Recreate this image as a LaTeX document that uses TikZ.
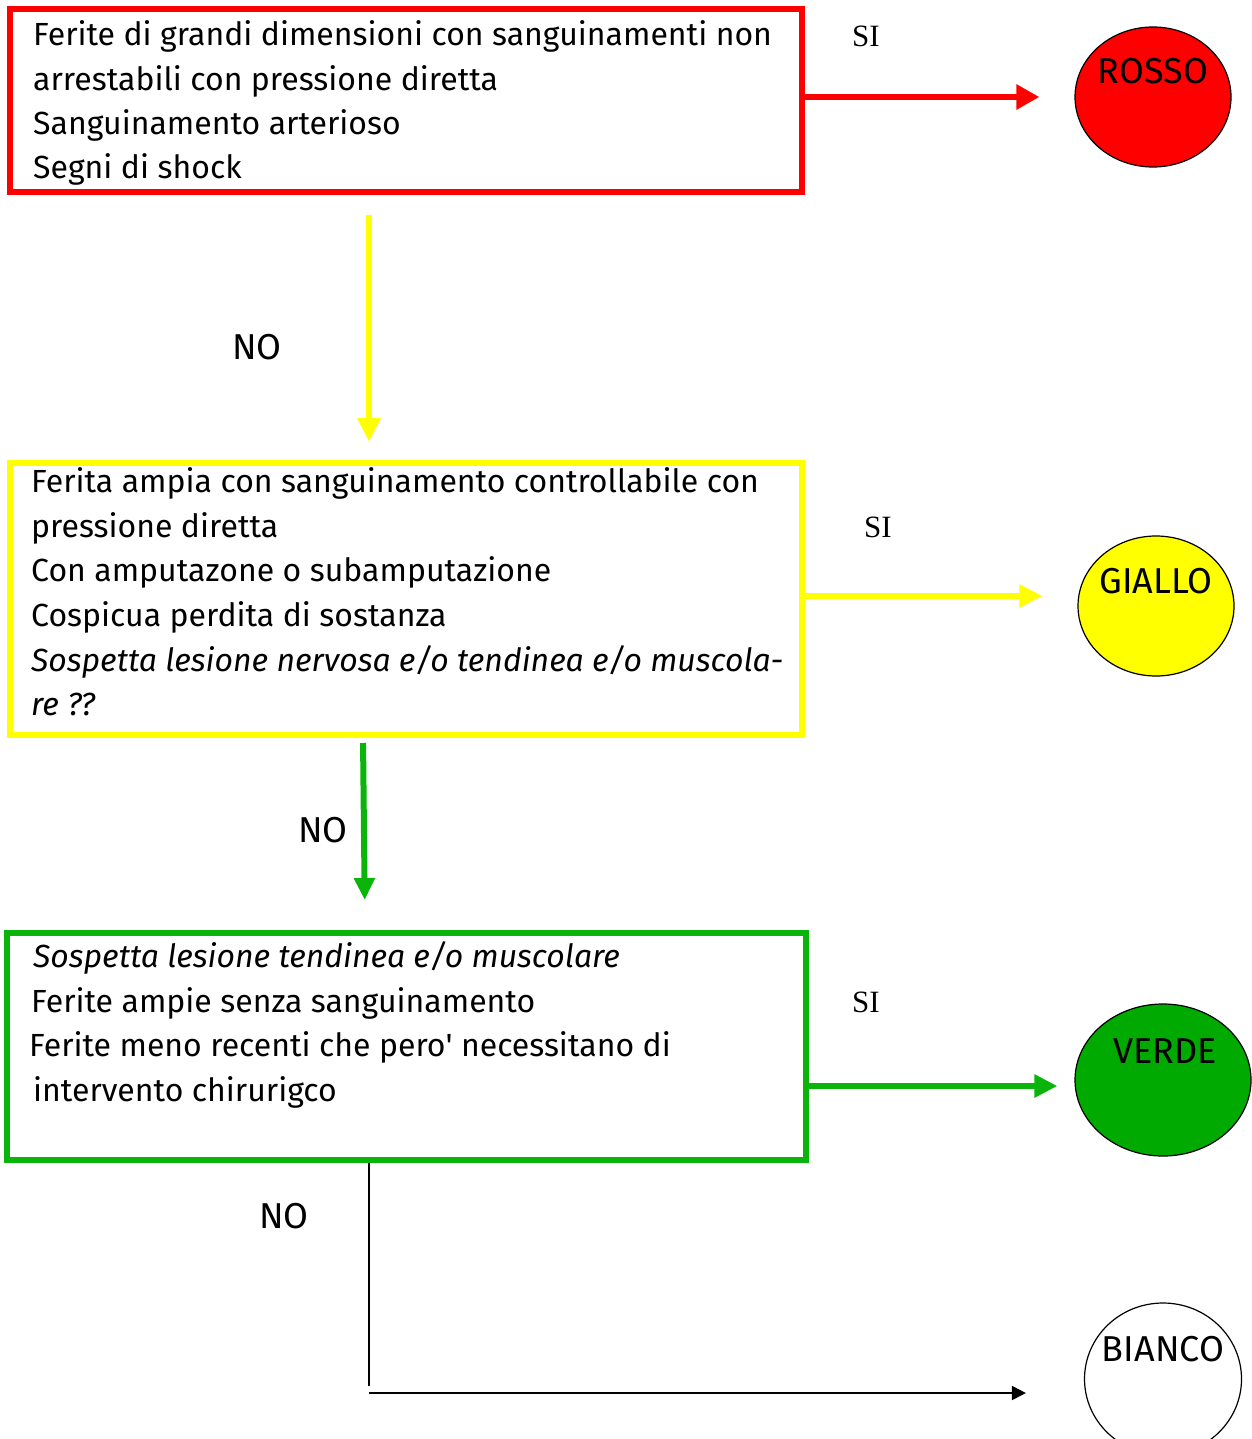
\documentclass[tikz,border=0pt]{standalone}
\usepackage{fontspec}
\setmainfont{Fira Sans}
\newfontfamily\serifsi{Liberation Serif}
\usetikzlibrary{arrows.meta,shapes.geometric,calc}
\definecolor{rosso}{HTML}{FF0000}
\definecolor{giallo}{HTML}{FFFF00}
\definecolor{verde}{HTML}{00AA00}
\definecolor{verdebox}{HTML}{0AB40A}
\tikzset{
  box/.style={draw, line width=6pt, rectangle, inner sep=0pt},
  line/.style={anchor=base west, inner sep=0pt, font=\fontsize{32}{44}\selectfont},
  itline/.style={line, font=\fontsize{32}{44}\selectfont\itshape},
  si/.style={inner sep=0pt, font=\serifsi\fontsize{31}{34}\selectfont},
  no/.style={inner sep=0pt, font=\fontsize{36}{40}\selectfont},
  code/.style={draw=black, line width=1.2pt, ellipse, inner sep=0pt},
  codetext/.style={anchor=base, inner sep=0pt, font=\fontsize{36}{40}\selectfont},
}
\begin{document}
\begin{tikzpicture}[x=1pt,y=-1pt]
\useasboundingbox (0,0) rectangle (1251,1439);

% decision boxes
\node[box, draw=rosso, minimum width=792pt, minimum height=183pt] (rbox) at (406,100.5) {};
\node[box, draw=giallo, minimum width=792pt, minimum height=272pt] (ybox) at (406,599) {};
\node[box, draw=verdebox, minimum width=799pt, minimum height=227pt] (gbox) at (406.5,1046.5) {};

% box texts
\node[line] (r1) at (33,46) {Ferite di grandi dimensioni con sanguinamenti non};
\node[line] (r2) at (33,91) {arrestabili con pressione diretta};
\node[line] (r3) at (33,135) {Sanguinamento arterioso};
\node[line] (r4) at (33,179) {Segni di shock};

\node[line] (y1) at (31,492) {Ferita ampia con sanguinamento controllabile con};
\node[line] (y2) at (31,537) {pressione diretta};
\node[line] (y3) at (31,581) {Con amputazone o subamputazione};
\node[line] (y4) at (31,626) {Cospicua perdita di sostanza};
\node[itline] (y5) at (31,671) {Sospetta lesione nervosa e/o tendinea e/o muscola-};
\node[itline] (y6) at (31,715) {re ??};

\node[itline] (g1) at (33,967) {Sospetta lesione tendinea e/o muscolare};
\node[line] (g2) at (31,1012) {Ferite ampie senza sanguinamento};
\node[line] (g3) at (29,1056) {Ferite meno recenti che pero\textquotesingle\ necessitano di};
\node[line] (g4) at (33,1101) {intervento chirurigco};

% triage codes
\node[code, fill=rosso, minimum width=156pt, minimum height=140pt] (rosso) at (1153,97) {};
\node[codetext] (rossot) at (1153,84) {ROSSO};
\node[code, fill=giallo, minimum width=156pt, minimum height=140pt] (giallo) at (1156,606) {};
\node[codetext] (giallot) at (1156,593) {GIALLO};
\node[code, fill=verde, minimum width=176pt, minimum height=152pt] (verde) at (1163,1080) {};
\node[codetext] (verdet) at (1165,1063) {VERDE};
\node[code, fill=white, minimum width=157pt, minimum height=152pt] (bianco) at (1163,1379) {};
\node[codetext] (biancot) at (1163,1361) {BIANCO};

% labels
\node[si] (si1) at (866,36) {SI};
\node[si] (si2) at (878,527) {SI};
\node[si] (si3) at (866,1002) {SI};
\node[no] (no1) at (257,347) {NO};
\node[no] (no2) at (323,830) {NO};
\node[no] (no3) at (284,1216) {NO};

% SI connectors
\draw[rosso, line width=6pt, -{Triangle[length=23pt,width=24pt]}, shorten >=35pt]
  (rbox.east |- rosso.west) -- (rosso.west);
\draw[giallo, line width=5.5pt, -{Triangle[length=23pt,width=22pt]}, shorten >=35pt]
  ($(ybox.east)+(0,-3)$) -- ($(ybox.east -| giallo.west)+(0,-3)$);
\draw[verdebox, line width=6pt, -{Triangle[length=23pt,width=22pt]}, shorten >=17pt]
  ($(gbox.east |- verde.west)+(0,6)$) -- ($(verde.west)+(0,6)$);

% NO connectors
\draw[giallo, line width=6pt, -{Triangle[length=24pt,width=22pt]}, shorten <=20pt, shorten >=18pt]
  ([xshift=-37pt]rbox.south) -- ([xshift=-37pt]ybox.north);
\draw[verdebox, line width=6pt, -{Triangle[length=22pt,width=20pt]}, shorten <=5pt, shorten >=30pt]
  ([xshift=-43pt]ybox.south) -- ([xshift=-41.5pt]gbox.north);

\coordinate (c1) at (369,1386);
\coordinate (c2) at (369,1393);
\draw[black, line width=1.5pt] ([xshift=-37.5pt]gbox.south) -- (c1);
\draw[black, line width=2pt, -{Triangle[length=14pt,width=14pt]}, shorten >=58pt]
  (c2) -- (c2 -| bianco.west);
\end{tikzpicture}
\end{document}
